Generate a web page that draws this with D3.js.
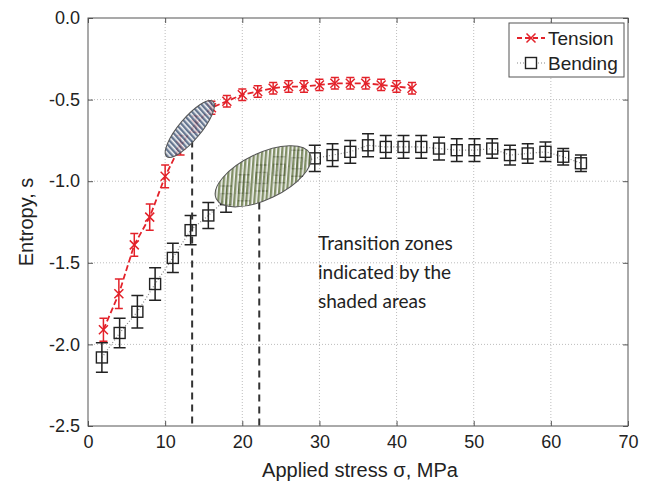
<!DOCTYPE html>
<html>
<head>
<meta charset="utf-8">
<script src="https://cdn.jsdelivr.net/npm/d3@7"></script>
<style>
  body { margin: 0; background: #fff; }
  text { font-family: "Liberation Sans", Arial, sans-serif; fill: #222; }
  text.note { font-family: Lato, "Open Sans", sans-serif; }
</style>
</head>
<body>
<svg id="chart"></svg>
<script>
const tensionX = [2, 4, 6, 8, 10, 12, 14, 16, 18, 20, 22, 24, 26, 28, 30, 32, 34, 36, 38, 40, 42];
const tensionY = [-1.91, -1.69, -1.39, -1.22, -0.97, -0.78, -0.65, -0.55, -0.51, -0.47, -0.45, -0.43, -0.42, -0.42, -0.41, -0.40, -0.40, -0.40, -0.41, -0.42, -0.43];
const tensionErr = [0.07, 0.09, 0.07, 0.08, 0.07, 0.06, 0.05, 0.04, 0.035, 0.035, 0.035, 0.035, 0.035, 0.035, 0.035, 0.035, 0.035, 0.035, 0.035, 0.035, 0.035];

const bendingX = [1.8, 4.1, 6.4, 8.7, 11.0, 13.3, 15.6, 17.9, 20.2, 22.5, 24.8, 27.1, 29.4, 31.7, 34.0, 36.3, 38.6, 40.9, 43.2, 45.5, 47.8, 50.1, 52.4, 54.7, 57.0, 59.3, 61.6, 63.9];
const bendingY = [-2.08, -1.93, -1.80, -1.63, -1.47, -1.30, -1.21, -1.11, -1.04, -0.98, -0.93, -0.89, -0.86, -0.84, -0.82, -0.78, -0.79, -0.79, -0.79, -0.80, -0.81, -0.81, -0.80, -0.84, -0.83, -0.82, -0.85, -0.89];
const bendingErr = [0.09, 0.09, 0.1, 0.1, 0.09, 0.09, 0.08, 0.08, 0.08, 0.08, 0.08, 0.08, 0.08, 0.07, 0.07, 0.07, 0.07, 0.07, 0.07, 0.07, 0.07, 0.07, 0.06, 0.06, 0.06, 0.06, 0.05, 0.05];

const xTicks = [0, 10, 20, 30, 40, 50, 60, 70];
const yTicks = [0, -0.5, -1.0, -1.5, -2.0, -2.5];
const seriesNames = ["Tension", "Bending"];
const noteLines = ["Transition zones", "indicated by the", "shaded areas"];

// transition zones: centre (data units) and the dashed marker line below
const zoneCentres = [[13.2, -0.68], [22.7, -0.97]];
const zoneLineX = [13.5, 22.2];
const zoneLineTop = [-0.75, -1.13];

const chartSize = { width: 648, height: 483 };
const margin = { left: 88, right: 20, top: 18, bottom: 57 };
const width = chartSize.width - (margin.left + margin.right);
const height = chartSize.height - (margin.top + margin.bottom);

const red = "#e3222a";
const black = "#222";

const svg = d3.select("#chart")
  .attr("width", chartSize.width)
  .attr("height", chartSize.height);

const defs = svg.append("defs");
const stripes = (id, colour, angle) => {
  const p = defs.append("pattern")
    .attr("id", id)
    .attr("patternUnits", "userSpaceOnUse")
    .attr("width", 4).attr("height", 4)
    .attr("patternTransform", `rotate(${angle})`);
  p.append("rect").attr("width", 4).attr("height", 4).attr("fill", "#f4f4f4");
  p.append("rect").attr("width", 2.4).attr("height", 4).attr("fill", colour);
};
stripes("blueHatch", "#4b5f7e", 8);
stripes("greenHatch", "#6c7d4c", 30);

const g = svg.append("g")
  .attr("transform", `translate(${margin.left}, ${margin.top})`);

const xScale = d3.scaleLinear().domain([0, 70]).range([0, width]);
const yScale = d3.scaleLinear().domain([-2.5, 0]).range([height, 0]);

// grid
g.selectAll(".vgrid")
  .data(xTicks.slice(1, -1))
  .enter().append("line")
  .attr("x1", d => xScale(d)).attr("x2", d => xScale(d))
  .attr("y1", 0).attr("y2", height)
  .attr("stroke", "#bdbdbd").attr("stroke-dasharray", "1,2");

g.selectAll(".hgrid")
  .data(yTicks.slice(1, -1))
  .enter().append("line")
  .attr("y1", d => yScale(d)).attr("y2", d => yScale(d))
  .attr("x1", 0).attr("x2", width)
  .attr("stroke", "#bdbdbd").attr("stroke-dasharray", "1,2");

// axes, matlab-style ticks pointing inward on all sides
const styleAxis = sel => {
  sel.select(".domain").remove();
  sel.selectAll(".tick line").attr("stroke", "#555");
  sel.selectAll("text").attr("font-size", 18).attr("fill", "#222");
};

g.append("g")
  .attr("transform", `translate(0, ${height})`)
  .call(d3.axisBottom(xScale).tickValues(xTicks).tickSizeInner(-5).tickPadding(9).tickFormat(d3.format("d")))
  .call(styleAxis);

g.append("g")
  .call(d3.axisLeft(yScale).tickValues(yTicks).tickSizeInner(-5).tickPadding(8).tickFormat(d => d3.format(".1f")(d).replace("−", "-")))
  .call(styleAxis);

g.append("g")
  .call(d3.axisTop(xScale).tickValues(xTicks).tickSizeInner(-5).tickFormat(""))
  .call(styleAxis);

g.append("g")
  .attr("transform", `translate(${width}, 0)`)
  .call(d3.axisRight(yScale).tickValues(yTicks).tickSizeInner(-5).tickFormat(""))
  .call(styleAxis);

g.append("rect")
  .attr("width", width).attr("height", height)
  .attr("fill", "none").attr("stroke", "#555");

const bending = bendingX.map((x, i) => ({ x, y: bendingY[i], e: bendingErr[i] }));
const tension = tensionX.map((x, i) => ({ x, y: tensionY[i], e: tensionErr[i] }));

const line = d3.line().x(d => xScale(d.x)).y(d => yScale(d.y));

// bending series
g.append("path")
  .datum(bending)
  .attr("d", line)
  .attr("fill", "none").attr("stroke", "#888")
  .attr("stroke-width", 1.2).attr("stroke-dasharray", "1,2");

const drawErrors = (data, colour, cap) => {
  const eb = g.append("g").attr("stroke", colour).attr("stroke-width", 1.5).attr("fill", "none");
  eb.selectAll("path")
    .data(data)
    .enter().append("path")
    .attr("d", d => {
      const x = xScale(d.x), y0 = yScale(d.y - d.e), y1 = yScale(d.y + d.e);
      return `M${x},${y0}V${y1}M${x - cap},${y0}H${x + cap}M${x - cap},${y1}H${x + cap}`;
    });
};

drawErrors(bending, black, 6);

g.append("g").selectAll("rect")
  .data(bending)
  .enter().append("rect")
  .attr("x", d => xScale(d.x) - 5.5).attr("y", d => yScale(d.y) - 5.5)
  .attr("width", 11).attr("height", 11)
  .attr("fill", "none").attr("stroke", black).attr("stroke-width", 1.4);

// tension series
g.append("path")
  .datum(tension)
  .attr("d", line)
  .attr("fill", "none").attr("stroke", red)
  .attr("stroke-width", 1.8).attr("stroke-dasharray", "6,3");

drawErrors(tension, red, 4);

g.append("g").selectAll("path")
  .data(tension)
  .enter().append("path")
  .attr("d", d => {
    const x = xScale(d.x), y = yScale(d.y), s = 4.5;
    return `M${x - s},${y - s}L${x + s},${y + s}M${x - s},${y + s}L${x + s},${y - s}`;
  })
  .attr("stroke", red).attr("stroke-width", 1.5);

// transition zones
const zoneShapes = [
  { rx: 36, ry: 11, angle: -50, fill: "url(#blueHatch)" },
  { rx: 52, ry: 23, angle: -25.6, fill: "url(#greenHatch)" }
];

g.selectAll(".zoneLine")
  .data(zoneLineX)
  .enter().append("line")
  .attr("x1", d => xScale(d)).attr("x2", d => xScale(d))
  .attr("y1", (d, i) => yScale(zoneLineTop[i])).attr("y2", height)
  .attr("stroke", "#333").attr("stroke-width", 2).attr("stroke-dasharray", "7,5");

g.selectAll(".zone")
  .data(zoneCentres)
  .enter().append("ellipse")
  .attr("transform", (d, i) => `translate(${xScale(d[0])}, ${yScale(d[1])}) rotate(${zoneShapes[i].angle})`)
  .attr("rx", (d, i) => zoneShapes[i].rx)
  .attr("ry", (d, i) => zoneShapes[i].ry)
  .attr("fill", (d, i) => zoneShapes[i].fill)
  .attr("fill-opacity", 0.85)
  .attr("stroke", "#555").attr("stroke-width", 1);

// note
g.append("text")
  .attr("class", "note")
  .attr("font-size", 19)
  .selectAll("tspan")
  .data(noteLines)
  .enter().append("tspan")
  .attr("x", 230).attr("y", (d, i) => 232 + i * 29)
  .text(d => d);

// legend
const legend = g.append("g").attr("transform", `translate(${width - 119}, 5)`);
legend.append("rect")
  .attr("width", 115).attr("height", 54)
  .attr("fill", "#fff").attr("stroke", "#555");

const legendItems = legend.selectAll(".item")
  .data(seriesNames)
  .enter().append("g")
  .attr("transform", (d, i) => `translate(0, ${15 + i * 25})`);

legendItems.append("line")
  .attr("x1", 8).attr("x2", 36).attr("y1", 0).attr("y2", 0)
  .attr("stroke", (d, i) => (i === 0 ? red : "#888"))
  .attr("stroke-width", (d, i) => (i === 0 ? 1.8 : 1.2))
  .attr("stroke-dasharray", (d, i) => (i === 0 ? "5,3" : "1,2"));

legendItems.filter((d, i) => i === 0).append("path")
  .attr("d", "M17.5,-4.5L26.5,4.5M17.5,4.5L26.5,-4.5")
  .attr("stroke", red).attr("stroke-width", 1.5);

legendItems.filter((d, i) => i === 1).append("rect")
  .attr("x", 16.5).attr("y", -5.5).attr("width", 11).attr("height", 11)
  .attr("fill", "#fff").attr("stroke", black).attr("stroke-width", 1.4);

legendItems.append("text")
  .attr("x", 39).attr("y", 7)
  .attr("font-size", 19)
  .text(d => d);

// axis labels
g.append("text")
  .attr("x", width / 2 + 2).attr("y", height + 51)
  .attr("text-anchor", "middle")
  .attr("font-size", 20)
  .text("Applied stress σ, MPa");

g.append("text")
  .attr("transform", "rotate(-90)")
  .attr("x", -height / 2).attr("y", -55)
  .attr("text-anchor", "middle")
  .attr("font-size", 20)
  .text("Entropy, s");
</script>
</body>
</html>
